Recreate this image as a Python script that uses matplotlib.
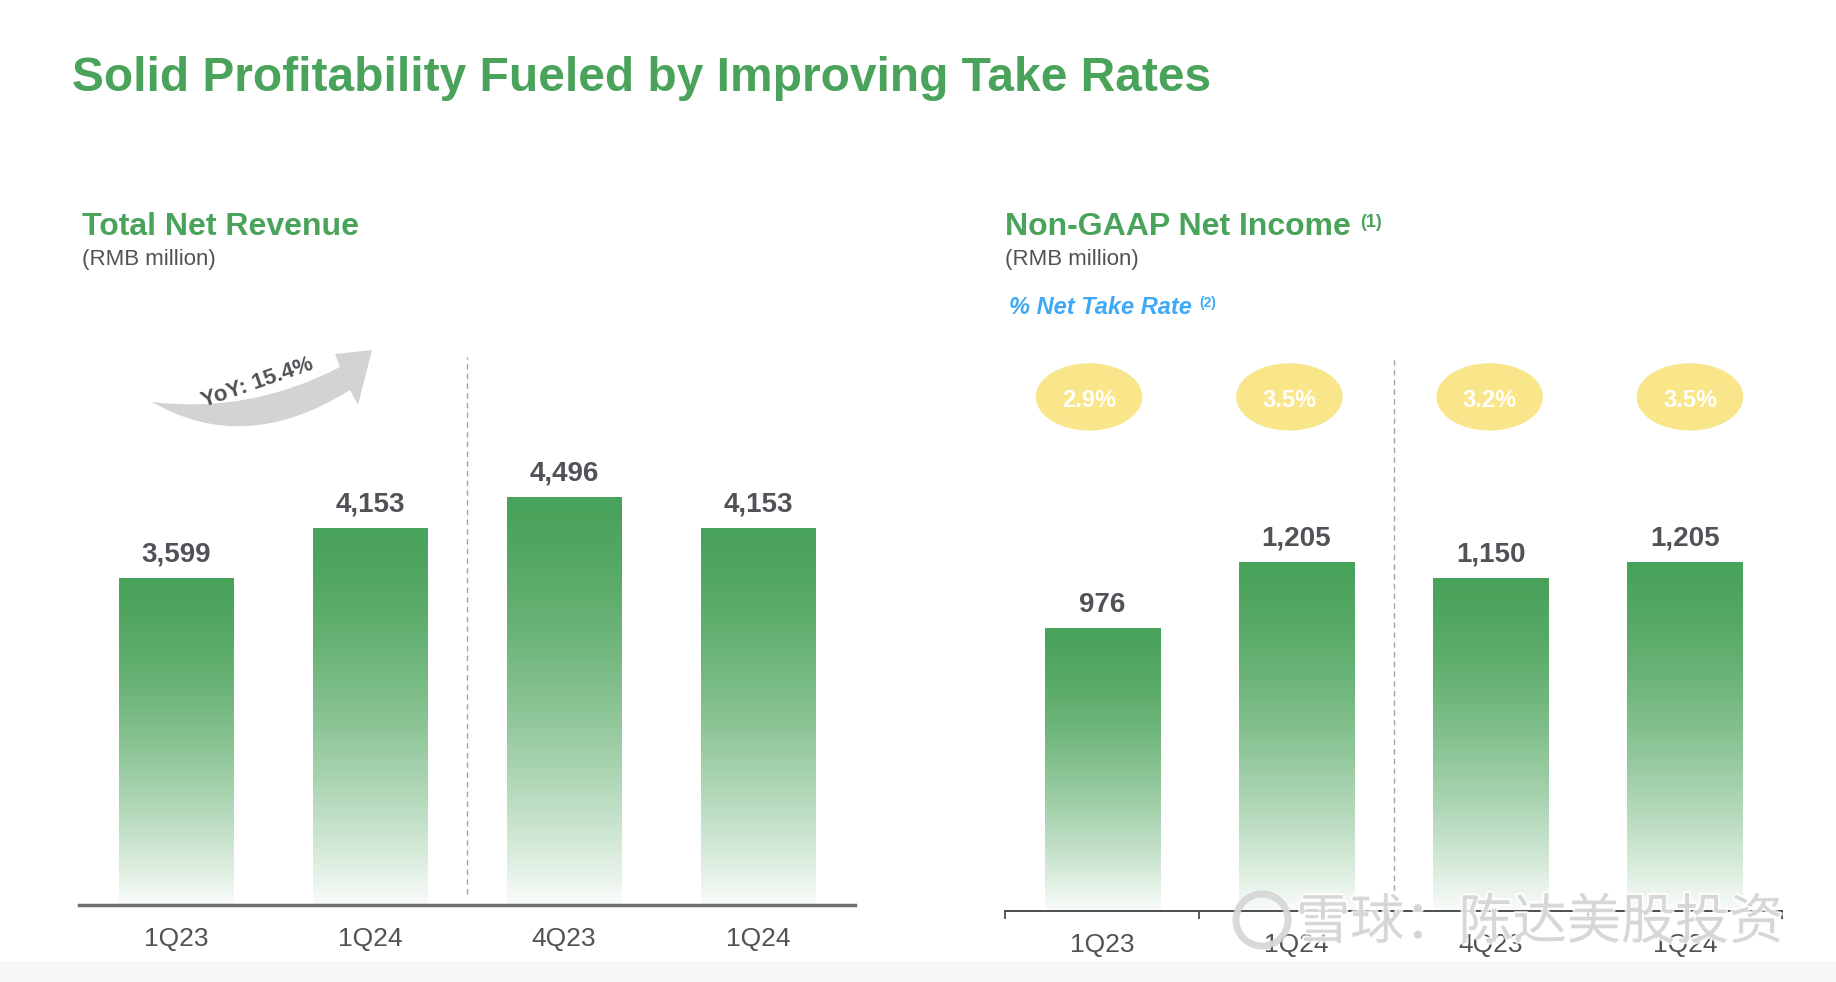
import numpy as np
import matplotlib.pyplot as plt
import matplotlib.patheffects as pe
from matplotlib.colors import to_rgb
from matplotlib.patches import Ellipse, PathPatch, Rectangle, Circle
from matplotlib.path import Path
from matplotlib.transforms import blended_transform_factory

plt.rcParams['font.family'] = ['Liberation Sans', 'Noto Sans CJK SC', 'DejaVu Sans']

# data
rev_quarters = ['1Q23', '1Q24', '4Q23', '1Q24']
revenue = [3599, 4153, 4496, 4153]
ni_quarters = ['1Q23', '1Q24', '4Q23', '1Q24']
net_income = [976, 1205, 1150, 1205]
take_rate = ['2.9%', '3.5%', '3.2%', '3.5%']
yoy_label = 'YoY: 15.4%'

GREEN = '#4aa35a'
TEXT = '#505257'
BLUE = '#3fa9f5'
W, H = 1836, 982

fig = plt.figure(figsize=(W / 100, H / 100), dpi=100)
fig.patches.append(Rectangle((0, 0), 1, (H - 962) / H, transform=fig.transFigure,
                             color='#f6f6f6', zorder=-1))


def gradient_bars(ax, values, width):
    xs = np.arange(len(values))
    bars = ax.bar(xs, values, width, color='none', edgecolor='none', zorder=2)
    t = np.linspace(0, 1, 256)
    mix = 0.97 * t ** 1.5
    g = np.array(to_rgb(GREEN))
    rgb = g[None, :] * (1 - mix[:, None]) + mix[:, None]
    img = rgb[:, None, :]
    for b in bars:
        x0, w, h = b.get_x(), b.get_width(), b.get_height()
        im = ax.imshow(img, extent=[x0, x0 + w, 0, h], aspect='auto',
                       origin='upper', zorder=2, interpolation='bilinear')
        im.set_clip_path(b)
    for x, v in zip(xs, values):
        ax.annotate(f'{v:,}', (x, v), xytext=(0, 17), textcoords='offset points',
                    ha='center', va='center', fontsize=20, fontweight='bold', color=TEXT)
    return xs


def style_axis(ax, labels, ymax):
    ax.set_xlim(-0.5, 3.5)
    ax.set_ylim(0, ymax)
    for s in ['top', 'left', 'right']:
        ax.spines[s].set_visible(False)
    ax.set_yticks([])
    ax.set_xticks(range(len(labels)), labels)
    ax.tick_params(axis='x', which='major', length=0, pad=16, labelsize=19, labelcolor=TEXT)
    ax.axvline(1.5, ymin=0.02, ymax=1, color='#a6a6a6', lw=1, ls=(0, (4, 3)), zorder=1)


# left: total net revenue
ax1 = fig.add_axes([79 / W, (H - 905) / H, 776 / W, 548 / H])
gradient_bars(ax1, revenue, 0.588)
style_axis(ax1, rev_quarters, 6040)
ax1.spines['bottom'].set_color('#6e6e6e')
ax1.spines['bottom'].set_linewidth(2.5)

# right: non-GAAP net income
ax2 = fig.add_axes([1005 / W, (H - 911) / H, 777 / W, 554 / H])
xs2 = gradient_bars(ax2, net_income, 0.593)
style_axis(ax2, ni_quarters, 1913)
ax2.spines['bottom'].set_color('#404040')
ax2.spines['bottom'].set_linewidth(1.3)
ax2.set_xticks([-0.5, 0.5, 1.5, 2.5, 3.5], minor=True)
ax2.tick_params(axis='x', which='minor', length=6, width=1.2, color='#404040', direction='out')

trans = blended_transform_factory(ax2.transData, ax2.transAxes)
for i, r in enumerate(take_rate):
    bx = -0.067 + i * 1.031
    ax2.add_patch(Ellipse((bx, 0.928), 0.541, 0.119, transform=trans,
                          color='#f9e68a', clip_on=False, zorder=3))
    ax2.text(bx, 0.922, r, transform=trans, ha='center', va='center',
             fontsize=17, fontweight='bold', color='white', zorder=4)

# overlay for headings, arrow and watermark (pixel coords)
ov = fig.add_axes([0, 0, 1, 1], zorder=5)
ov.set_xlim(0, W)
ov.set_ylim(H, 0)
ov.axis('off')
ov.patch.set_alpha(0)

ov.text(72, 78, 'Solid Profitability Fueled by Improving Take Rates', fontsize=34.5,
        fontweight='bold', color=GREEN, va='center', ha='left')
ov.text(82, 227, 'Total Net Revenue', fontsize=23, fontweight='bold', color=GREEN, va='center')
ov.text(82, 260, '(RMB million)', fontsize=16, color=TEXT, va='center')
ov.text(1005, 227, 'Non-GAAP Net Income', fontsize=23, fontweight='bold', color=GREEN, va='center')
ov.text(1360, 222, '(1)', fontsize=13, fontweight='bold', color=GREEN, va='center')
ov.text(1005, 260, '(RMB million)', fontsize=16, color=TEXT, va='center')
ov.text(1009, 308, '% Net Take Rate', fontsize=17, fontweight='bold', style='italic',
        color=BLUE, va='center')
ov.text(1199, 303, '(2)', fontsize=10, fontweight='bold', color=BLUE, va='center')

# curved YoY arrow
verts = [(152, 402), (245, 456), (350, 390), (358, 405), (372, 350), (335, 354),
         (340, 367), (250, 414), (152, 402), (152, 402)]
codes = [Path.MOVETO, Path.CURVE3, Path.CURVE3, Path.LINETO, Path.LINETO, Path.LINETO,
         Path.LINETO, Path.CURVE3, Path.CURVE3, Path.CLOSEPOLY]
ov.add_patch(PathPatch(Path(verts, codes), facecolor='#d3d3d3', edgecolor='none'))
ov.text(257, 383, yoy_label, rotation=19, fontsize=16, fontweight='bold', color=TEXT,
        ha='center', va='center', rotation_mode='anchor')

# watermark
halo = [pe.withStroke(linewidth=3, foreground='white')]
ov.add_patch(Circle((1262, 920), 26, fill=False, edgecolor='#d0d0d0', lw=5,
                    alpha=0.8, path_effects=halo))
ov.text(1296, 923, '雪球：陈达美股投资', fontsize=39, color='#d0d0d0', alpha=0.8,
        family=['Noto Sans CJK SC', 'DejaVu Sans'], va='center', ha='left', path_effects=halo)

fig.savefig('out.png', dpi=100)
